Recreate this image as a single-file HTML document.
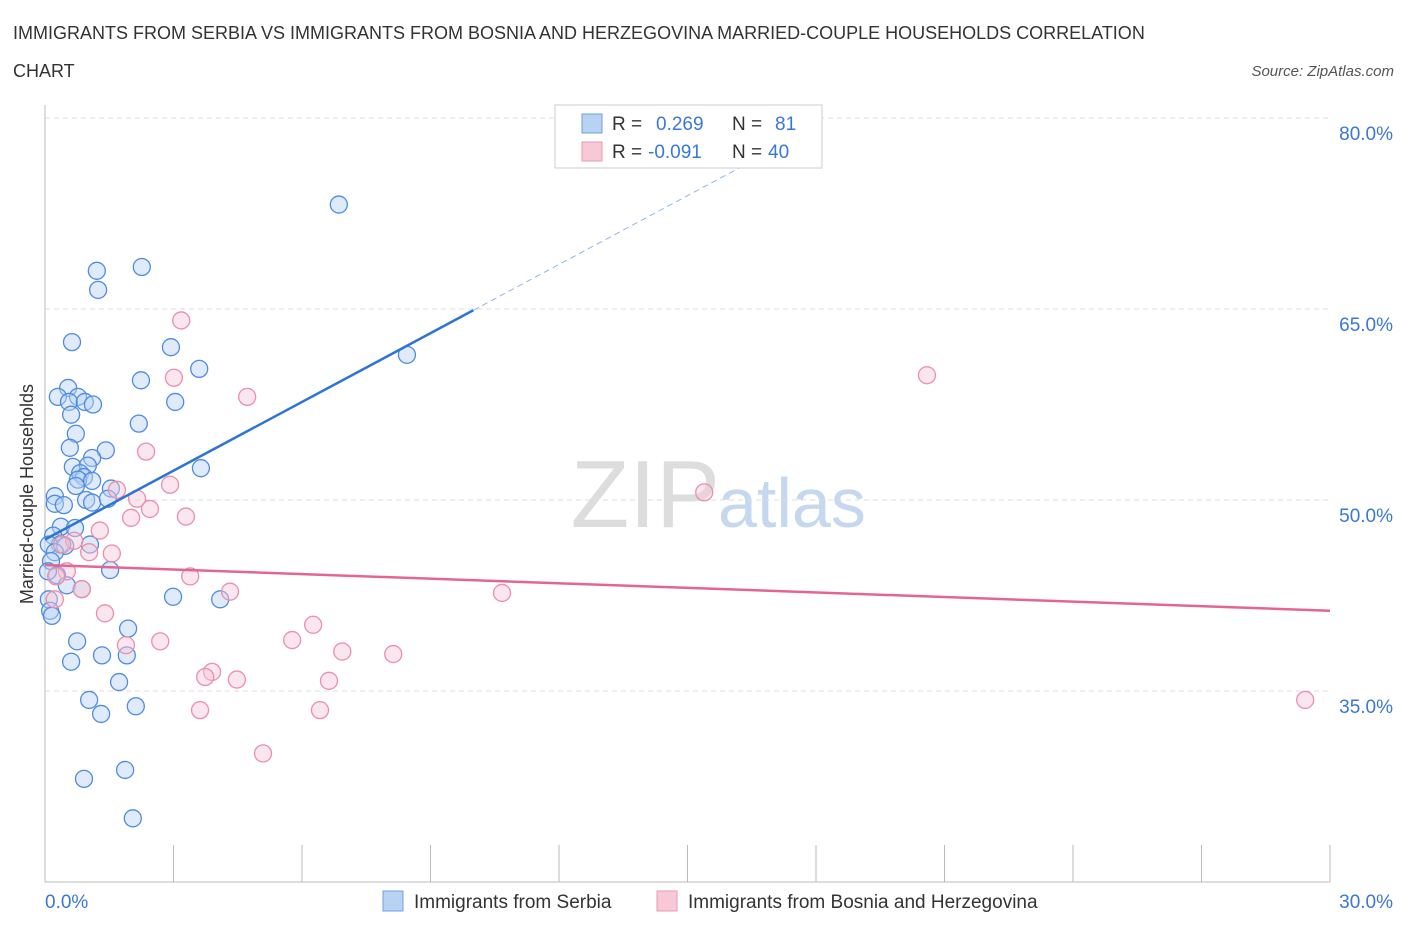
<!DOCTYPE html>
<html><head><meta charset="utf-8"><style>
body{margin:0;background:#fff;font-family:"Liberation Sans",sans-serif;}
svg text{font-family:"Liberation Sans",sans-serif;}
</style></head><body>
<svg id="c" width="1406" height="930" xmlns="http://www.w3.org/2000/svg">
<text x="13" y="39" font-size="18" fill="#333">IMMIGRANTS FROM SERBIA VS IMMIGRANTS FROM BOSNIA AND HERZEGOVINA MARRIED-COUPLE HOUSEHOLDS CORRELATION</text>
<text x="13" y="77" font-size="18" fill="#333">CHART</text>
<text x="1394" y="76" font-size="15" fill="#555" font-style="italic" text-anchor="end">Source: ZipAtlas.com</text>
<text x="33" y="494" font-size="18" fill="#333" text-anchor="middle" transform="rotate(-90 33 494)">Married-couple Households</text>
<text x="720" y="527" font-size="96" fill="#ddd" text-anchor="end" font-family="Liberation Serif">ZIP</text>
<text x="718" y="527" font-size="70" fill="#c5d8ef">atlas</text>
<g id="grid"></g><g id="axes"></g><g id="pts"></g><g id="lines"></g>
<g>
<rect x="555" y="105" width="267" height="63" fill="#fff" stroke="#ccc"/>
<rect x="582" y="114" width="20" height="19" fill="#b8d2f3" stroke="#6f9fe0"/>
<text x="612" y="130" font-size="19" fill="#333">R = </text><text x="656" y="130" font-size="19" fill="#3a78d4">0.269</text>
<text x="732" y="130" font-size="19" fill="#333">N = </text><text x="775" y="130" font-size="19" fill="#3a78d4">81</text>
<rect x="582" y="142" width="20" height="19" fill="#f7c8d6" stroke="#ea9ab2"/>
<text x="612" y="158" font-size="19" fill="#333">R = </text><text x="648" y="158" font-size="19" fill="#3a78d4">-0.091</text>
<text x="732" y="158" font-size="19" fill="#333">N = </text><text x="768" y="158" font-size="19" fill="#3a78d4">40</text>
</g>
<g>
<rect x="383" y="891" width="20" height="20" fill="#b8d2f3" stroke="#6f9fe0"/>
<text x="414" y="908" font-size="19" fill="#333">Immigrants from Serbia</text>
<rect x="657" y="891" width="20" height="20" fill="#f7c8d6" stroke="#ea9ab2"/>
<text x="688" y="908" font-size="19" fill="#333">Immigrants from Bosnia and Herzegovina</text>
</g>
</svg>
<script>
const yTicks=[80,65,50,35];
const xTickLabels=["0.0%","30.0%"];
const serbiaX=[6.86,2.26,1.21,1.24,0.63,2.94,8.45,3.60,2.24,0.54,0.30,0.77,0.56,0.93,1.12,3.04,0.61,2.19,0.72,0.58,1.42,1.10,0.65,1.00,3.64,0.82,0.91,0.77,1.10,0.72,1.54,0.23,0.96,1.10,1.47,0.23,0.44,0.37,0.70,0.19,0.35,0.09,0.47,0.23,1.05,0.14,1.52,0.28,0.07,0.51,0.86,2.99,4.09,0.09,0.12,0.16,1.94,0.75,1.33,1.91,0.61,1.73,1.03,2.12,1.31,1.87,0.91,2.05];
const serbiaY=[73.2,68.3,68.0,66.5,62.4,62.0,61.4,60.3,59.4,58.8,58.1,58.1,57.7,57.7,57.5,57.7,56.7,56.0,55.2,54.1,53.9,53.3,52.6,52.7,52.5,52.1,51.8,51.6,51.5,51.1,50.9,50.3,50.0,49.8,50.1,49.7,49.6,47.9,47.8,47.2,46.5,46.5,46.4,45.9,46.5,45.2,44.5,44.1,44.4,43.3,43.0,42.4,42.2,42.2,41.3,40.9,39.9,38.9,37.8,37.8,37.3,35.7,34.3,33.8,33.2,28.8,28.1,25.0];
const bosniaX=[3.18,3.01,4.72,20.59,2.36,2.92,1.68,2.15,2.45,15.39,2.01,3.29,1.28,0.68,1.03,1.56,0.51,3.39,0.86,0.26,4.32,10.67,1.40,6.26,2.69,5.77,6.94,8.13,1.89,3.90,3.74,4.48,6.63,3.62,6.42,5.09,29.42,0.40,0.23];
const bosniaY=[64.1,59.6,58.1,59.8,53.8,51.2,50.8,50.1,49.3,50.6,48.6,48.7,47.6,46.8,45.9,45.8,44.4,44.0,43.0,44.0,42.8,42.7,41.1,40.2,38.9,39.0,38.1,37.9,38.6,36.5,36.1,35.9,35.8,33.5,33.5,30.1,34.3,46.5,42.2];
const serbiaTrend=[46.9,1.8,10,17];   // intercept, slope, solid end, dashed end
const bosniaTrend=[44.9,-0.12,30];
const X=v=>45+v/30*1285, Y=v=>118+(80-v)*191/15;
const NS="http://www.w3.org/2000/svg";
function mk(p,t,a){const e=document.createElementNS(NS,t);for(const k in a)e.setAttribute(k,a[k]);document.getElementById(p).appendChild(e);return e;}
yTicks.forEach(v=>{
 const l=mk('grid','line',{x1:45,x2:1330,y1:Y(v),y2:Y(v),stroke:'#ddd','stroke-dasharray':'5,4'});
 
 
 const t=mk('grid','text',{x:1393,y:Y(v)+22,'font-size':19,fill:'#3a78d4','text-anchor':'end'});
 t.textContent=v.toFixed(1)+'%';
 
 
});
const ax=mk('axes','line',{x1:45,x2:45,y1:105,y2:882,stroke:'#bbb'});


const bx=mk('axes','line',{x1:45,x2:1330,y1:882,y2:882,stroke:'#bbb'});


for(let i=0;i<=10;i++){const t=mk('axes','line',{x1:X(i*3),x2:X(i*3),y1:845,y2:882,stroke:'#bbb'});
 
 }
[[0,'start',45],[30,'end',1393]].forEach((d,i)=>{const t=mk('axes','text',{x:d[2],y:908,'font-size':19,fill:'#3a78d4','text-anchor':d[1]});t.textContent=xTickLabels[i];
 
 });
function pts(xs,ys,f,s,n){xs.forEach((x,i)=>{const c=mk('pts','circle',{cx:X(x),cy:Y(ys[i]),r:8.5,fill:f,'fill-opacity':0.45,stroke:s,'stroke-width':1.3});
 
 });}
pts(serbiaX,serbiaY,'#b8d2f3','#4f8be0','point-serbia');
pts(bosniaX,bosniaY,'#f7c8d6','#ea8fab','point-bosnia');
const [a,b,e1,e2]=serbiaTrend;
let l=mk('lines','line',{x1:X(0),y1:Y(a),x2:X(e1),y2:Y(a+b*e1),stroke:'#2e73d6','stroke-width':2.5});


l=mk('lines','line',{x1:X(e1),y1:Y(a+b*e1),x2:X(e2),y2:Y(a+b*e2),stroke:'#8fb4e8','stroke-width':1,'stroke-dasharray':'6,4'});


l=mk('lines','line',{x1:X(0),y1:Y(bosniaTrend[0]),x2:X(bosniaTrend[2]),y2:Y(bosniaTrend[0]+bosniaTrend[1]*bosniaTrend[2]),stroke:'#e4668f','stroke-width':2.5});


</script>
</body></html>
